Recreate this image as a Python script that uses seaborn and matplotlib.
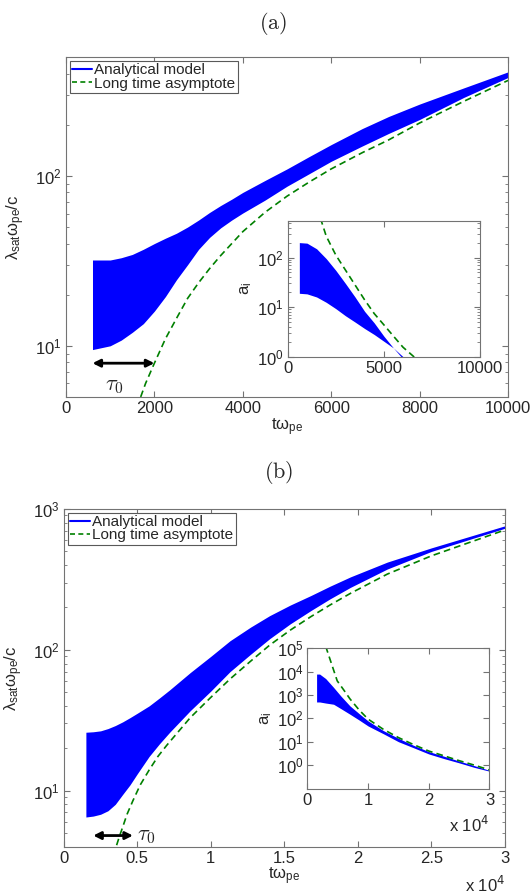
import numpy as np
import seaborn as sns
import matplotlib
matplotlib.use("Agg")
from matplotlib import pyplot as plt
from matplotlib.lines import Line2D
from matplotlib.ticker import FuncFormatter, LogLocator, FixedLocator

# panel (a): saturation wavelength band and asymptote
a_t = [600, 1000, 1250, 1500, 1750, 2000, 2250, 2500, 2750, 3000, 3250, 3500, 3750, 4000,
       4500, 5000, 5500, 6000, 6700, 7300, 8000, 9000, 10000]
a_upper = [32, 32, 33, 34.5, 37, 40, 43, 46, 50, 55, 61, 67, 73, 80,
           94, 110, 130, 153, 190, 224, 265, 330, 410]
a_lower = [9.5, 10, 10.8, 12, 13.5, 16, 19.5, 24.5, 30, 37, 43.5, 49.5, 55, 60.5,
           72, 87, 103, 122, 150, 178, 215, 290, 380]
a_asym_t = [1690, 1800, 2000, 2250, 2500, 2750, 3000, 3250, 3500, 4000, 4500, 5000, 5500,
            6000, 6700, 7300, 8000, 9000, 10000]
a_asym = [5, 6.0, 7.9, 11, 14.5, 19, 23.5, 28.5, 34, 47, 61, 76, 92,
          110, 137, 163, 205, 275, 365]

# panel (a) inset: a_i
ia_t = [600, 1000, 1500, 2000, 2500, 3000, 3500, 4000, 4500, 5000, 5500, 6000, 6500]
ia_upper = [200, 195, 150, 95, 55, 30, 16, 8.2, 4.8, 2.6, 1.5, 0.9, 0.6]
ia_lower = [19, 18.5, 16, 12.5, 9.3, 6.7, 5.0, 3.7, 2.8, 2.05, 1.5, 1.0, 0.65]
ia_asym_t = [1700, 2000, 2500, 3000, 3500, 4000, 4500, 5000, 5500, 6000, 6500, 7000]
ia_asym = [620, 270, 112, 56, 28, 14, 7.4, 4.4, 2.6, 1.55, 1.05, 0.7]

# panel (b)
b_t = [1500, 2000, 2500, 3000, 3500, 4000, 4500, 5000, 5800, 6500, 7200, 8600, 10000, 11300,
       12700, 14000, 15400, 16800, 18100, 19500, 22000, 25000, 30000]
b_upper = [26, 26.2, 26.6, 27.6, 29, 30.8, 33, 35.5, 40, 45.5, 52, 69, 90, 116,
           145, 175, 208, 243, 283, 330, 420, 530, 760]
b_lower = [6.5, 6.6, 6.8, 7.2, 8.0, 9.4, 11, 13.2, 17.5, 21.5, 26, 37, 51, 70,
           93, 120, 153, 190, 230, 278, 375, 500, 730]
b_asym_t = [3590, 3800, 4000, 4300, 4700, 5200, 5800, 6400, 7000, 8600, 10000, 11300, 12700,
            14000, 15400, 16800, 18100, 19500, 22000, 25000, 30000]
b_asym = [4.1, 4.8, 5.5, 6.8, 8.5, 11, 14, 17.5, 21, 33, 46, 62, 83,
          108, 138, 172, 208, 252, 345, 465, 710]

# panel (b) inset
ib_t = [1500, 2000, 3000, 4300, 5500, 7000, 8500, 10000, 12500, 15000, 17500, 20000, 22500, 25000, 27500, 30000]
ib_upper = [7800, 7800, 5000, 2100, 900, 340, 160, 77, 30, 14, 7, 3.8, 2.4, 1.5, 0.95, 0.6]
ib_lower = [500, 500, 450, 400, 260, 150, 85, 47, 22, 10, 5.5, 3.0, 1.9, 1.25, 0.8, 0.55]
ib_asym_t = [3000, 3500, 4000, 4900, 6000, 7000, 8500, 10000, 12500, 15000, 17500, 20000, 22500, 25000, 27500, 30000]
ib_asym = [120000, 49000, 20000, 4000, 1600, 680, 230, 92, 34, 15, 7.5, 4.0, 2.5, 1.55, 1.0, 0.62]

legend_labels = ["Analytical model", "Long time asymptote"]

sns.set_style("ticks")
plt.rcParams["font.family"] = ["Liberation Sans", "DejaVu Sans"]
plt.rcParams["font.size"] = 12

BLUE = "#0000ff"
GREEN = "#008000"
SPINE = "0.45"

fig = plt.figure(figsize=(5.32, 8.94), dpi=100)


def style(ax, fs=12):
    ax.set_yscale("log")
    for s in ax.spines.values():
        s.set_color(SPINE)
        s.set_linewidth(0.8)
    ax.tick_params(which="both", direction="in", top=True, right=True,
                   color=SPINE, labelsize=fs, pad=3)
    ax.tick_params(which="major", length=4)
    ax.tick_params(which="minor", length=2)
    ax.yaxis.set_minor_locator(LogLocator(base=10, subs=np.arange(2, 10)))


def band(ax, t, up, lo, at, ay):
    ax.fill_between(t, lo, up, color=BLUE, linewidth=0)
    sns.lineplot(x=at, y=ay, ax=ax, color=GREEN, linewidth=1.2,
                 dashes=False, linestyle=(0, (4, 2.5)), estimator=None, sort=False)


def legend(ax):
    handles = [Line2D([], [], color=BLUE, lw=1.5),
               Line2D([], [], color=GREEN, lw=1.2, linestyle=(0, (3, 2)))]
    leg = ax.legend(handles, legend_labels, loc="upper left", fontsize=11,
                    handlelength=1.3, handletextpad=0.15, labelspacing=-0.05,
                    borderpad=0.15, borderaxespad=0.25, fancybox=False,
                    framealpha=1)
    leg.get_frame().set_edgecolor("0.35")
    leg.get_frame().set_linewidth(0.8)


ylab = r"$\mathregular{\lambda_{sat}\omega_{pe}/c}$"
xlab = r"$\mathregular{t\omega_{pe}}$"
arrow = dict(arrowstyle="<|-|>", color="k", lw=2, mutation_scale=11,
             shrinkA=0, shrinkB=0)

# ---------- (a) ----------
ax1 = fig.add_axes([0.124, 0.556, 0.831, 0.380])
style(ax1)
band(ax1, a_t, a_upper, a_lower, a_asym_t, a_asym)
ax1.set_xlim(0, 10000)
ax1.set_ylim(5, 500)
ax1.xaxis.set_major_locator(FixedLocator([0, 2000, 4000, 6000, 8000, 10000]))
ax1.set_xlabel(xlab, labelpad=0)
ax1.set_ylabel(ylab, labelpad=6)
ax1.annotate("", xy=(2000, 7.9), xytext=(600, 7.9), arrowprops=arrow)
ax1.text(1090, 5.85, r"$\tau_0$", math_fontfamily="cm", fontsize=16,
         ha="center", va="center")
legend(ax1)
fig.text(0.513, 0.974, r"$\mathrm{(a)}$", math_fontfamily="cm", fontsize=16,
         ha="center", va="center")

ins1 = fig.add_axes([0.541, 0.601, 0.361, 0.152])
style(ins1)
band(ins1, ia_t, ia_upper, ia_lower, ia_asym_t, ia_asym)
ins1.set_xlim(0, 10000)
ins1.set_ylim(1, 550)
ins1.xaxis.set_major_locator(FixedLocator([0, 5000, 10000]))
ins1.set_xlabel("")
ins1.set_ylabel(r"$\mathregular{a_i}$", labelpad=2)

# ---------- (b) ----------
ax2 = fig.add_axes([0.120, 0.0529, 0.829, 0.3777])
style(ax2)
band(ax2, b_t, b_upper, b_lower, b_asym_t, b_asym)
ax2.set_xlim(0, 30000)
ax2.set_ylim(4, 1000)
ax2.xaxis.set_major_locator(FixedLocator(np.arange(0, 30001, 5000)))
ax2.xaxis.set_major_formatter(FuncFormatter(lambda v, p: f"{v / 1e4:g}"))
ax2.set_xlabel(xlab, labelpad=0)
ax2.set_ylabel(ylab, labelpad=6)
ax2.text(1.0, -0.113, r"x 10$^{4}$", transform=ax2.transAxes,
         ha="right", va="center", fontsize=12)
ax2.annotate("", xy=(4700, 4.8), xytext=(2000, 4.8), arrowprops=arrow)
ax2.text(5000, 4.8, r"$\tau_0$", math_fontfamily="cm", fontsize=16,
         ha="left", va="center")
legend(ax2)
fig.text(0.523, 0.471, r"$\mathrm{(b)}$", math_fontfamily="cm", fontsize=16,
         ha="center", va="center")

ins2 = fig.add_axes([0.578, 0.118, 0.342, 0.157])
style(ins2)
band(ins2, ib_t, ib_upper, ib_lower, ib_asym_t, ib_asym)
ins2.set_xlim(0, 30000)
ins2.set_ylim(0.1, 1e5)
ins2.yaxis.set_major_locator(FixedLocator([1, 10, 100, 1e3, 1e4, 1e5]))
ins2.xaxis.set_major_locator(FixedLocator([0, 10000, 20000, 30000]))
ins2.xaxis.set_major_formatter(FuncFormatter(lambda v, p: f"{v / 1e4:g}"))
ins2.set_xlabel("")
ins2.set_ylabel(r"$\mathregular{a_i}$", labelpad=2)
ins2.text(1.0, -0.26, r"x 10$^{4}$", transform=ins2.transAxes,
          ha="right", va="center", fontsize=12)

fig.savefig("out.png", dpi=100)
